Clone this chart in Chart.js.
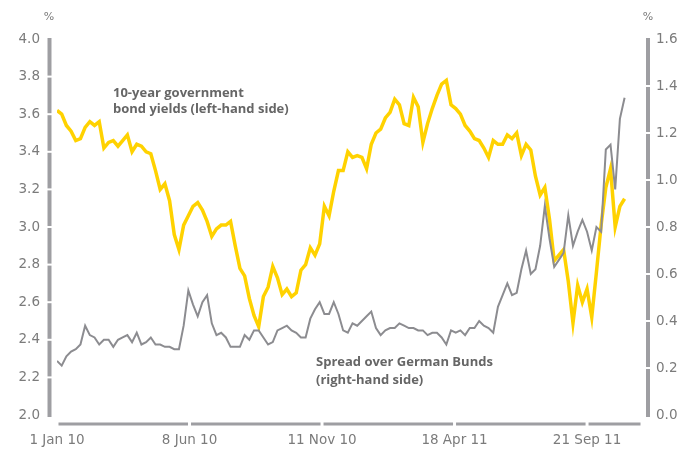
<!DOCTYPE html>
<html><head><meta charset="utf-8">
<script src="https://cdn.jsdelivr.net/npm/chart.js@4/dist/chart.umd.min.js"></script>
<style>html,body{margin:0;padding:0;background:#fff}#wrap{width:692px;height:450px;position:relative}</style>
</head><body><div id="wrap"><canvas id="c" width="692" height="450"></canvas></div>
<script>
// x axis: business-day index since 1 Jan 2010; data sampled every 4 business days
const tickLabels = ["1 Jan 10", "8 Jun 10", "11 Nov 10", "18 Apr 11", "21 Sep 11"];
const tickIndex = [0, 113, 226, 339, 452];
const sampleStep = 4;
const axisEnd = 498;

// 10-year government bond yields, % (left-hand side)
const yieldValues = [
  3.62, 3.60, 3.54, 3.51, 3.46, 3.47, 3.53, 3.56, 3.54, 3.56,
  3.42, 3.45, 3.46, 3.43, 3.46, 3.49, 3.40, 3.44, 3.43, 3.40,
  3.39, 3.30, 3.20, 3.23, 3.14, 2.96, 2.88, 3.01, 3.06, 3.11,
  3.13, 3.09, 3.03, 2.95, 2.99, 3.01, 3.01, 3.03, 2.90, 2.78,
  2.74, 2.62, 2.53, 2.47, 2.63, 2.68, 2.79, 2.73, 2.64, 2.67,
  2.63, 2.65, 2.77, 2.80, 2.89, 2.85, 2.91, 3.11, 3.06, 3.19,
  3.30, 3.30, 3.40, 3.37, 3.38, 3.37, 3.31, 3.44, 3.50, 3.52,
  3.58, 3.61, 3.68, 3.65, 3.55, 3.54, 3.69, 3.64, 3.45, 3.55,
  3.63, 3.70, 3.76, 3.78, 3.65, 3.63, 3.60, 3.54, 3.51, 3.47,
  3.46, 3.42, 3.37, 3.46, 3.44, 3.44, 3.49, 3.47, 3.50, 3.38,
  3.44, 3.41, 3.27, 3.17, 3.21, 3.04, 2.82, 2.85, 2.88, 2.71,
  2.49, 2.69, 2.60, 2.67, 2.52, 2.76, 3.01, 3.21, 3.31, 3.00, 3.11, 3.15
];

// Spread over German Bunds, percentage points (right-hand side)
const spreadValues = [
  0.23, 0.21, 0.25, 0.27, 0.28, 0.30, 0.38, 0.34, 0.33, 0.30,
  0.32, 0.32, 0.29, 0.32, 0.33, 0.34, 0.31, 0.35, 0.30, 0.31,
  0.33, 0.30, 0.30, 0.29, 0.29, 0.28, 0.28, 0.38, 0.53, 0.47,
  0.42, 0.48, 0.51, 0.39, 0.34, 0.35, 0.33, 0.29, 0.29, 0.29,
  0.34, 0.32, 0.36, 0.36, 0.33, 0.30, 0.31, 0.36, 0.37, 0.38,
  0.36, 0.35, 0.33, 0.33, 0.41, 0.45, 0.48, 0.43, 0.43, 0.48,
  0.43, 0.36, 0.35, 0.39, 0.38, 0.40, 0.42, 0.44, 0.37, 0.34,
  0.36, 0.37, 0.37, 0.39, 0.38, 0.37, 0.37, 0.36, 0.36, 0.34,
  0.35, 0.35, 0.33, 0.30, 0.36, 0.35, 0.36, 0.34, 0.37, 0.37,
  0.40, 0.38, 0.37, 0.35, 0.46, 0.51, 0.56, 0.51, 0.52, 0.62,
  0.70, 0.60, 0.62, 0.72, 0.89, 0.75, 0.63, 0.66, 0.69, 0.85,
  0.72, 0.78, 0.83, 0.78, 0.70, 0.80, 0.78, 1.13, 1.15, 0.96, 1.26, 1.35
];

const leftTicks = { min: 2.0, max: 4.0, step: 0.2 };
const rightTicks = { min: 0.0, max: 1.6, step: 0.2 };

const toPoints = arr => arr.map((v, i) => ({ x: i * sampleStep, y: v }));

const AXIS_COLOR = '#9e9ea2';
const TICK_COLOR = '#7b7b7b';
const NOTE_COLOR = '#666666';
const tickFont = { family: 'DejaVu Sans', size: 13.5 };

const decor = {
  id: 'decor',
  afterDraw(chart) {
    const { ctx, chartArea: ca, scales } = chart;
    ctx.save();
    ctx.strokeStyle = AXIS_COLOR;
    ctx.lineCap = 'butt';
    const vaxis = (scale, x) => {
      const px = scale.ticks.map(t => scale.getPixelForValue(t.value)).sort((a, b) => a - b);
      ctx.lineWidth = 4;
      for (let i = 0; i < px.length - 1; i++) {
        const a = px[i] + (i === 0 ? -1 : 1);
        const b = px[i + 1] - (i === px.length - 2 ? -2 : 1);
        ctx.beginPath(); ctx.moveTo(x, a); ctx.lineTo(x, b); ctx.stroke();
      }
    };
    vaxis(scales.y, ca.left - 7.5);
    vaxis(scales.y1, ca.right + 7);
    // segmented x axis
    const xs = scales.x;
    const pts = tickIndex.map(v => xs.getPixelForValue(v));
    pts.push(ca.right + 1);
    ctx.lineWidth = 3;
    const yy = ca.bottom + 9;
    for (let i = 0; i < pts.length - 1; i++) {
      ctx.beginPath(); ctx.moveTo(pts[i] + 1.5, yy); ctx.lineTo(pts[i + 1] - 1.5, yy); ctx.stroke();
    }
    // unit labels
    ctx.fillStyle = TICK_COLOR;
    ctx.font = '11px "DejaVu Sans"';
    ctx.textAlign = 'center';
    ctx.textBaseline = 'middle';
    ctx.fillText('%', ca.left - 8, 17);
    ctx.fillText('%', ca.right + 7, 17);
    // annotations
    ctx.fillStyle = NOTE_COLOR;
    ctx.font = 'bold 13px "Open Sans"';
    ctx.textAlign = 'left';
    ctx.fillText('10-year government', 113, 93);
    ctx.fillText('bond yields (left-hand side)', 113, 109);
    ctx.fillText('Spread over German Bunds', 316, 362);
    ctx.fillText('(right-hand side)', 316, 380);
    ctx.restore();
  }
};

new Chart(document.getElementById('c'), {
  type: 'line',
  data: {
    datasets: [
      { label: 'Spread over German Bunds (right-hand side)', data: toPoints(spreadValues), yAxisID: 'y1',
        borderColor: '#8c8c90', borderWidth: 2, pointRadius: 0, tension: 0, fill: false },
      { label: '10-year government bond yields (left-hand side)', data: toPoints(yieldValues), yAxisID: 'y',
        borderColor: '#ffd200', borderWidth: 3.5, pointRadius: 0, tension: 0, fill: false }
    ]
  },
  options: {
    responsive: false,
    animation: false,
    devicePixelRatio: 1,
    layout: { padding: { top: 39, left: 0, right: 0, bottom: 0 } },
    plugins: { legend: { display: false }, tooltip: { enabled: false } },
    scales: {
      x: {
        type: 'linear', min: 0, max: axisEnd,
        grid: { display: false, drawTicks: false }, border: { display: false },
        afterBuildTicks: s => { s.ticks = tickIndex.map(v => ({ value: v })); },
        ticks: {
          autoSkip: false, maxRotation: 0, padding: 17, color: TICK_COLOR, font: tickFont,
          callback: v => { const i = tickIndex.indexOf(v); return i >= 0 ? tickLabels[i] : ''; }
        },
        afterFit: s => { s.height = 35; }
      },
      y: {
        position: 'left', min: leftTicks.min, max: leftTicks.max,
        grid: { display: false, drawTicks: false }, border: { display: false },
        ticks: { stepSize: leftTicks.step, padding: 17, color: TICK_COLOR, font: tickFont, callback: v => Number(v).toFixed(1) },
        afterFit: s => { s.width = 57; }
      },
      y1: {
        position: 'right', min: rightTicks.min, max: rightTicks.max,
        grid: { display: false, drawTicks: false }, border: { display: false },
        ticks: { stepSize: rightTicks.step, padding: 15, color: TICK_COLOR, font: tickFont, callback: v => Number(v).toFixed(1) },
        afterFit: s => { s.width = 51; }
      }
    }
  },
  plugins: [decor]
});
</script>
</body></html>
